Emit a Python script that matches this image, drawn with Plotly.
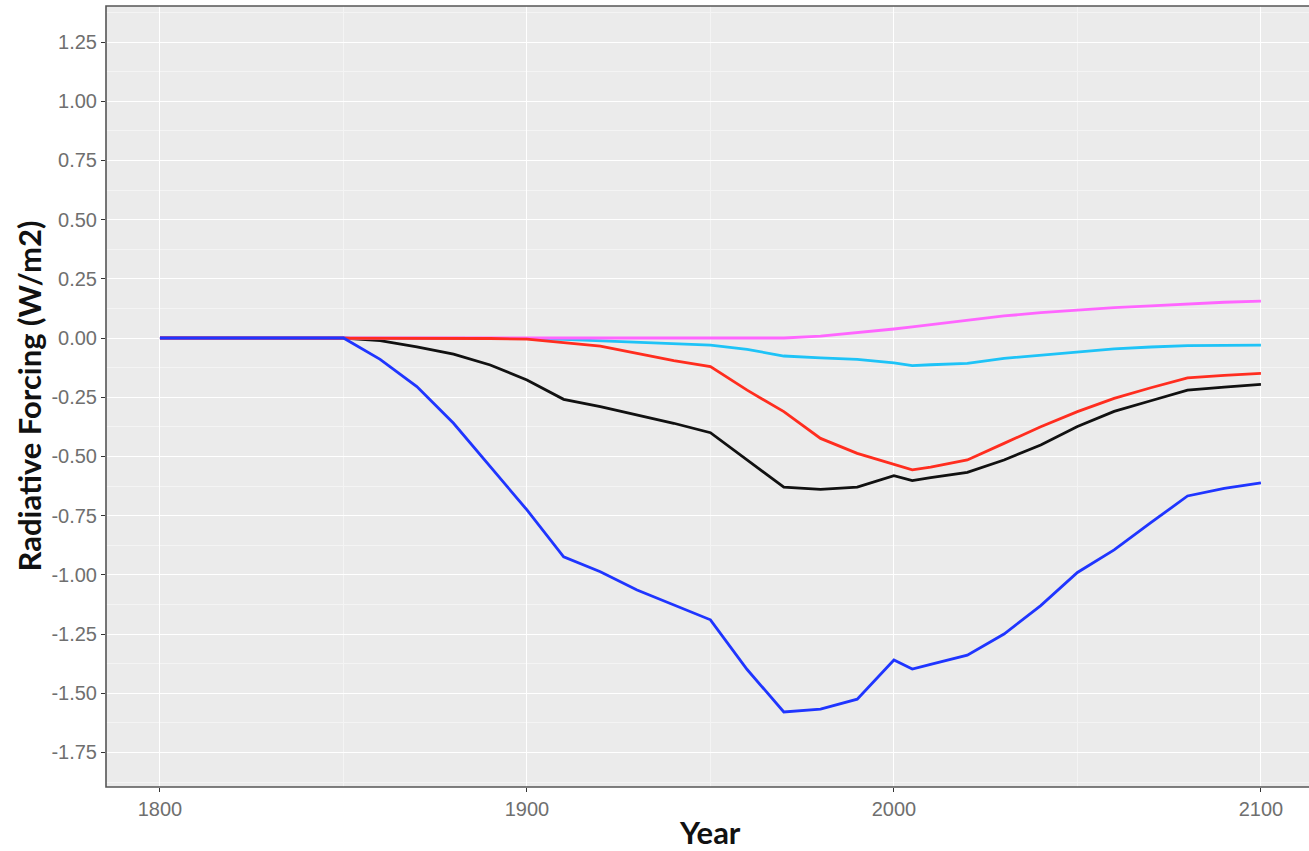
import plotly.graph_objects as go

years = [1800, 1850, 1860, 1870, 1880, 1890, 1900, 1910, 1920, 1930, 1940, 1950, 1960, 1970,
         1980, 1990, 2000, 2005, 2010, 2020, 2030, 2040, 2050, 2060, 2070, 2080, 2090, 2100]

total = [0, 0, -0.011, -0.037, -0.068, -0.114, -0.177, -0.259, -0.29, -0.325, -0.36, -0.40, -0.515, -0.63,
         -0.639, -0.63, -0.581, -0.602, -0.59, -0.567, -0.515, -0.452, -0.374, -0.31, -0.265, -0.22, -0.207, -0.196]
red_series = [0, 0, 0, 0, 0, -0.002, -0.005, -0.02, -0.034, -0.065, -0.096, -0.121, -0.22, -0.311,
              -0.424, -0.487, -0.535, -0.557, -0.545, -0.515, -0.445, -0.375, -0.311, -0.255, -0.21, -0.168, -0.158, -0.149]
cyan_series = [0, 0, 0, 0, 0, 0, -0.002, -0.006, -0.012, -0.018, -0.023, -0.03, -0.048, -0.076,
               -0.084, -0.09, -0.105, -0.117, -0.113, -0.107, -0.086, -0.072, -0.058, -0.046, -0.038, -0.032, -0.031, -0.03]
magenta_series = [0, 0, 0, 0, 0, 0, 0, 0, 0, 0, 0, 0, 0, 0,
                  0.008, 0.022, 0.038, 0.047, 0.056, 0.076, 0.093, 0.107, 0.118, 0.128, 0.136, 0.145, 0.151, 0.156]
blue_series = [0, 0, -0.09, -0.205, -0.36, -0.543, -0.726, -0.924, -0.987, -1.064, -1.128, -1.19, -1.40, -1.579,
               -1.567, -1.525, -1.36, -1.398, -1.378, -1.339, -1.25, -1.13, -0.99, -0.895, -0.78, -0.667, -0.635, -0.612]

x_ticks = [1800, 1900, 2000, 2100]
y_ticks = [1.25, 1.0, 0.75, 0.5, 0.25, 0.0, -0.25, -0.5, -0.75, -1.0, -1.25, -1.5, -1.75]
y_tick_labels = ["%.2f" % v for v in y_ticks]

series = [
    (total, "#111111"),
    (cyan_series, "#1ec3f7"),
    (magenta_series, "#ff66ff"),
    (red_series, "#ff2d1f"),
    (blue_series, "#1f35ff"),
]

fig = go.Figure()
for vals, col in series:
    fig.add_trace(go.Scatter(x=years, y=vals, mode="lines",
                             line=dict(color=col, width=2.8), showlegend=False,
                             hoverinfo="skip"))

PL, PR = 106, 1309
PW = PR - PL

fig.update_layout(
    width=1309, height=851,
    margin=dict(l=PL, r=1309 - PR, t=6, b=64),
    paper_bgcolor="white",
    plot_bgcolor="#ebebeb",
    font=dict(family="Liberation Sans, Arial, sans-serif", color="#6f6f6f", size=20),
    xaxis=dict(
        range=[1785.3, 2113.1], tickvals=x_ticks, ticktext=[str(v) for v in x_ticks],
        showgrid=True, gridcolor="white", gridwidth=1.4,
        minor=dict(dtick=50, tick0=1750, showgrid=True, gridcolor="#f4f4f4", gridwidth=0.8, ticks=""),
        ticks="outside", ticklen=4, tickcolor="#333333", tickwidth=1,
        zeroline=False, showline=False,
        tickfont=dict(size=20, color="#6f6f6f"),
    ),
    yaxis=dict(
        range=[-1.896, 1.402], tickvals=y_ticks, ticktext=y_tick_labels,
        showgrid=True, gridcolor="white", gridwidth=1.4,
        minor=dict(dtick=0.25, tick0=0.125, showgrid=True, gridcolor="#f4f4f4", gridwidth=0.8, ticks=""),
        ticks="outside", ticklen=4, tickcolor="#333333", tickwidth=1,
        zeroline=False, showline=False,
        tickfont=dict(size=20, color="#6f6f6f"),
    ),
    shapes=[
        dict(type="rect", xref="paper", yref="paper", x0=0, x1=1.08, y0=0, y1=1,
             line=dict(color="#555555", width=1.6), fillcolor="rgba(0,0,0,0)", layer="above"),
    ],
    annotations=[
        dict(text="<b>Year</b>", xref="paper", yref="paper", x=(710 - PL) / PW, y=-(832 - 787) / 781,
             xanchor="center", yanchor="middle", showarrow=False,
             font=dict(family="Lato, sans-serif", size=31, color="#111111")),
        dict(text="<b>Radiative Forcing (W/m2)</b>", xref="paper", yref="paper",
             x=-(PL - 28) / PW, y=0.5, xanchor="center", yanchor="middle",
             textangle=-90, showarrow=False,
             font=dict(family="Lato, sans-serif", size=31, color="#111111")),
    ],
)

fig.write_html("out.html", config={"displayModeBar": False},
               post_script="document.body.style.margin='0';document.body.style.overflow='hidden';")
